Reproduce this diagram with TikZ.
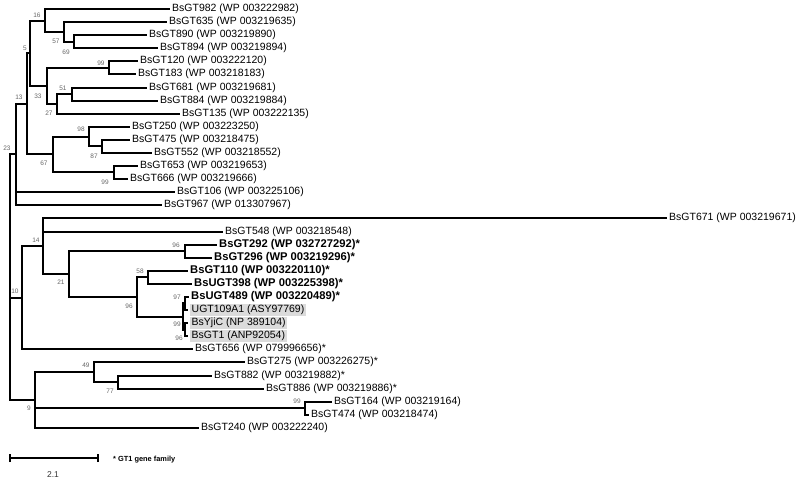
\documentclass[tikz,border=0pt]{standalone}
\usepackage{fontspec}
\setmainfont{Liberation Sans}
\begin{document}
\begin{tikzpicture}[x=1pt,y=-1pt,
  br/.style={line width=2pt, line join=miter},
  tiplab/.style={anchor=west, inner sep=0.5pt, xshift=1.5pt, font=\fontsize{10.5}{12}\selectfont},
  boldlab/.style={anchor=west, inner sep=0.5pt, xshift=1.5pt, font=\fontsize{11.2}{12}\selectfont\bfseries},
  hllab/.style={anchor=west, inner sep=1.5pt, xshift=2pt, fill=black!14, font=\fontsize{10.5}{12}\selectfont},
  bs/.style={inner sep=0pt, text=black!60, font=\fontsize{6.5}{7}\selectfont}]
\useasboundingbox (0,0) rectangle (800,481);
% internal nodes
\coordinate (root) at (10,277);
\coordinate (n23) at (16,154);
\coordinate (n13) at (27,104);
\coordinate (n5) at (30,53);
\coordinate (n16) at (45,21);
\coordinate (n57) at (64,32);
\coordinate (n69) at (74,42);
\coordinate (n33) at (47,86);
\coordinate (n99a) at (109,68);
\coordinate (n27) at (57,104);
\coordinate (n51) at (72,94);
\coordinate (n67) at (53,154);
\coordinate (n98) at (89,137);
\coordinate (n87) at (102,146);
\coordinate (n99b) at (114,172);
\coordinate (n10) at (22,298);
\coordinate (n14) at (43,246);
\coordinate (n21) at (69,274);
\coordinate (n96a) at (185,251);
\coordinate (n96b) at (137,297);
\coordinate (n58) at (148,277);
\coordinate (n99g) at (183,317);
\coordinate (n97) at (185,303);
\coordinate (n96g) at (185,330);
\coordinate (n9) at (35,400);
\coordinate (n49) at (94,372);
\coordinate (n77) at (118,382);
\coordinate (n99c) at (305,408);
% tips
\coordinate (t982) at (170,9);
\coordinate (t635) at (167,22);
\coordinate (t890) at (147,35);
\coordinate (t894) at (158,48);
\coordinate (t120) at (138,61);
\coordinate (t183) at (136,74);
\coordinate (t681) at (147,88);
\coordinate (t884) at (158,101);
\coordinate (t135) at (180,114);
\coordinate (t250) at (130,127);
\coordinate (t475) at (130,140);
\coordinate (t552) at (152,153);
\coordinate (t653) at (138,166);
\coordinate (t666) at (128,179);
\coordinate (t106) at (175,192);
\coordinate (t967) at (162,205);
\coordinate (t671) at (667,218);
\coordinate (t548) at (223,232);
\coordinate (t292) at (217,245);
\coordinate (t296) at (212,258);
\coordinate (t110) at (188,271);
\coordinate (t398) at (192,284);
\coordinate (t489) at (189,297);
\coordinate (t109) at (188,310);
\coordinate (tyjic) at (188,323);
\coordinate (tgt1) at (188,336);
\coordinate (t656) at (193,349);
\coordinate (t275) at (245,362);
\coordinate (t882) at (212,376);
\coordinate (t886) at (264,389);
\coordinate (t164) at (332,402);
\coordinate (t474) at (309,415);
\coordinate (t240) at (199,428);
% branches
\foreach \a/\b in {root/n23,root/n10,root/n9,
  n23/n13,n23/t106,n23/t967,n13/n5,n13/n67,n5/n16,n5/n33,
  n16/t982,n16/n57,n57/t635,n57/n69,n69/t890,n69/t894,
  n33/n99a,n33/n27,n99a/t120,n99a/t183,n27/n51,n27/t135,n51/t681,n51/t884,
  n67/n98,n67/n99b,n98/t250,n98/n87,n87/t475,n87/t552,n99b/t653,n99b/t666,
  n10/n14,n10/t656,n14/t671,n14/t548,n14/n21,n21/n96a,n21/n96b,
  n96a/t292,n96a/t296,n96b/n58,n96b/n99g,n58/t110,n58/t398,
  n99g/n97,n99g/n96g,n97/t489,n97/t109,n96g/tyjic,n96g/tgt1,
  n9/n49,n9/n99c,n9/t240,n49/t275,n49/n77,n77/t882,n77/t886,n99c/t164,n99c/t474}
  \draw[br] (\a) |- (\b);
% tip labels
\node[tiplab] (l982) at (t982) {BsGT982 (WP 003222982)};
\node[tiplab] (l635) at (t635) {BsGT635 (WP 003219635)};
\node[tiplab] (l890) at (t890) {BsGT890 (WP 003219890)};
\node[tiplab] (l894) at (t894) {BsGT894 (WP 003219894)};
\node[tiplab] (l120) at (t120) {BsGT120 (WP 003222120)};
\node[tiplab] (l183) at (t183) {BsGT183 (WP 003218183)};
\node[tiplab] (l681) at (t681) {BsGT681 (WP 003219681)};
\node[tiplab] (l884) at (t884) {BsGT884 (WP 003219884)};
\node[tiplab] (l135) at (t135) {BsGT135 (WP 003222135)};
\node[tiplab] (l250) at (t250) {BsGT250 (WP 003223250)};
\node[tiplab] (l475) at (t475) {BsGT475 (WP 003218475)};
\node[tiplab] (l552) at (t552) {BsGT552 (WP 003218552)};
\node[tiplab] (l653) at (t653) {BsGT653 (WP 003219653)};
\node[tiplab] (l666) at (t666) {BsGT666 (WP 003219666)};
\node[tiplab] (l106) at (t106) {BsGT106 (WP 003225106)};
\node[tiplab] (l967) at (t967) {BsGT967 (WP 013307967)};
\node[tiplab] (l671) at (t671) {BsGT671 (WP 003219671)};
\node[tiplab] (l548) at (t548) {BsGT548 (WP 003218548)};
\node[boldlab] (l292) at (t292) {BsGT292 (WP 032727292)*};
\node[boldlab] (l296) at (t296) {BsGT296 (WP 003219296)*};
\node[boldlab] (l110) at (t110) {BsGT110 (WP 003220110)*};
\node[boldlab] (l398) at (t398) {BsUGT398 (WP 003225398)*};
\node[boldlab] (l489) at (t489) {BsUGT489 (WP 003220489)*};
\node[hllab] (l109) at (t109) {UGT109A1 (ASY97769)};
\node[hllab] (lyjic) at (tyjic) {BsYjiC (NP 389104)};
\node[hllab] (lgt1) at (tgt1) {BsGT1 (ANP92054)};
\node[tiplab] (l656) at (t656) {BsGT656 (WP 079996656)*};
\node[tiplab] (l275) at (t275) {BsGT275 (WP 003226275)*};
\node[tiplab] (l882) at (t882) {BsGT882 (WP 003219882)*};
\node[tiplab] (l886) at (t886) {BsGT886 (WP 003219886)*};
\node[tiplab] (l164) at (t164) {BsGT164 (WP 003219164)};
\node[tiplab] (l474) at (t474) {BsGT474 (WP 003218474)};
\node[tiplab] (l240) at (t240) {BsGT240 (WP 003222240)};
% bootstrap values
\node[bs] (b16) at (37,15) {16};
\node[bs] (b57) at (56,41) {57};
\node[bs] (b69) at (66,52) {69};
\node[bs] (b5) at (25,48) {5};
\node[bs] (b99a) at (101,63) {99};
\node[bs] (b33) at (38,96) {33};
\node[bs] (b51) at (63,88) {51};
\node[bs] (b27) at (49,113) {27};
\node[bs] (b13) at (19,97) {13};
\node[bs] (b98) at (81,129) {98};
\node[bs] (b87) at (94,156) {87};
\node[bs] (b67) at (44,163) {67};
\node[bs] (b99b) at (105,182) {99};
\node[bs] (b23) at (7,148) {23};
\node[bs] (b14) at (36,240) {14};
\node[bs] (b10) at (15,291) {10};
\node[bs] (b21) at (61,282) {21};
\node[bs] (b96a) at (176,245) {96};
\node[bs] (b58) at (140,271) {58};
\node[bs] (b96b) at (129,306) {96};
\node[bs] (b97) at (177,297) {97};
\node[bs] (b99g) at (177,324) {99};
\node[bs] (b96g) at (179,338) {96};
\node[bs] (b49) at (86,365) {49};
\node[bs] (b77) at (110,391) {77};
\node[bs] (b9) at (29,408) {9};
\node[bs] (b99c) at (297,401) {99};
% scale bar
\coordinate (sb1) at (10,458);
\coordinate (sb2) at (98,458);
\draw[line width=2pt] (sb1) -- (sb2);
\draw[line width=2pt] ([yshift=-4pt]sb1) -- ([yshift=4pt]sb1);
\draw[line width=2pt] ([yshift=-4pt]sb2) -- ([yshift=4pt]sb2);
\node[inner sep=0pt, text=black!80, font=\fontsize{8.5}{10}\selectfont] (sbl) at (53,475) {2.1};
\node[anchor=west, inner sep=0pt, font=\fontsize{7.4}{9}\selectfont\bfseries] (leg) at (113,460) {* GT1 gene family};
\end{tikzpicture}
\end{document}
